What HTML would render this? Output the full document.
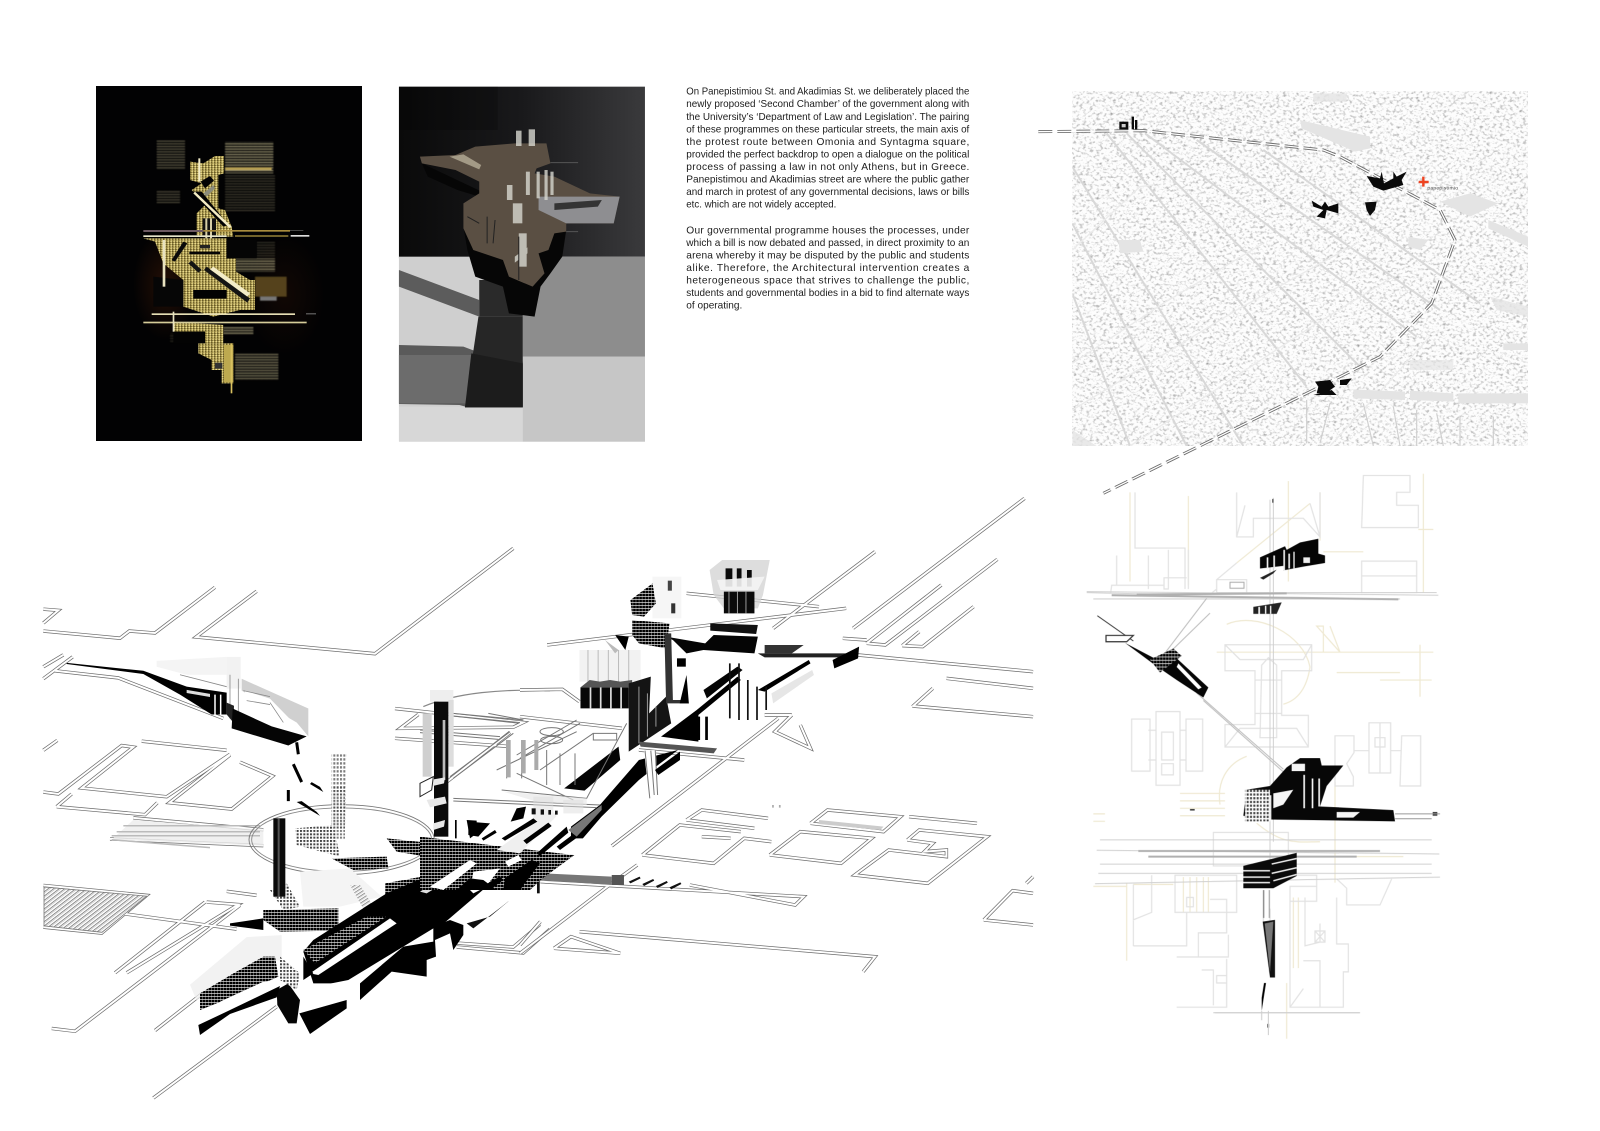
<!DOCTYPE html>
<html><head><meta charset="utf-8"><title>Panepistimiou – Second Chamber</title>
<style>
html,body{margin:0;padding:0;background:#fff;width:1600px;height:1131px;overflow:hidden}
svg{display:block}
svg *{vector-effect:non-scaling-stroke}
.t{font:10.2px "Liberation Sans",sans-serif;fill:#1c1c1c}
</style></head><body>
<svg width="1600" height="1131" viewBox="0 0 1600 1131" xmlns="http://www.w3.org/2000/svg">
<defs>
<filter id="city" x="0" y="0" width="1" height="1" color-interpolation-filters="sRGB">
<feTurbulence type="fractalNoise" baseFrequency=".3 .38" numOctaves="2" seed="7"/>
<feColorMatrix values="0 0 0 0 .62  0 0 0 0 .62  0 0 0 0 .62  2.3 0 0 0 -1.14"/>
</filter>
<filter id="b1"><feGaussianBlur stdDeviation="1.5"/></filter>
<linearGradient id="wall" x1="0" x2="1" y1="0" y2="0"><stop offset="0" stop-color="#0a0a0a"/><stop offset=".5" stop-color="#19191b"/><stop offset="1" stop-color="#3a3a3c"/></linearGradient>
<radialGradient id="glow"><stop offset="0" stop-color="#2c1206"/><stop offset="1" stop-color="#2c1206" stop-opacity="0"/></radialGradient>
<pattern id="hk" width="9" height="9" patternUnits="userSpaceOnUse"><rect width="9" height="9" fill="#eee"/><rect width="8" height="7" fill="#000"/></pattern>
<pattern id="hl" width="10" height="10" patternUnits="userSpaceOnUse"><rect width="10" height="10" fill="#fff"/><rect width="6" height="6" fill="#444"/></pattern>
<pattern id="stripe" width="9" height="9" patternUnits="userSpaceOnUse" patternTransform="rotate(-33)"><rect width="9" height="9" fill="#fff"/><rect width="9" height="2.2" fill="#777"/><rect width="9" height=".9" y="4" fill="#999"/></pattern>
<pattern id="gold" width="9" height="7" patternUnits="userSpaceOnUse"><rect width="9" height="7" fill="#b7a451"/><rect width="5" height="2" fill="#3f3618"/><rect x="5" y="3" width="4" height="3" fill="#efe3a2"/><rect x="0" y="4" width="2" height="3" fill="#6c5f2a"/></pattern>
<pattern id="strip" width="5" height="8" patternUnits="userSpaceOnUse"><rect width="5" height="3" fill="#a49c78"/><rect y="5" x="2" width="3" height="1" fill="#6a6448"/></pattern>
<path id="ax1" d="M40 380L270 398 298 380 375 385 555 270M40 325L85 328 40 360M680 280L498 395 1035 437 1450 172M40 500L128 445M40 470L100 440M75 480L265 498 580 600M40 680L82 655M40 785L85 790 275 668 310 672 155 775 410 797 600 690M335 657L590 680M80 822L125 790M80 822L345 842 382 812M630 710L728 745 605 828 418 812 600 692M240 903L700 920M310 850L700 880M255 1240L525 1062M290 1240L625 1068 530 1062M270 1090L620 1130M65 1380L135 1387 630 1070M375 1385L520 1290M370 1555L740 1325M1280 1165L1450 1175 1530 1118M1280 1175L1480 1190 1560 1130M1095 575L1480 610 1450 622 1110 625 1165 590M1095 650L1430 670M1250 760L1440 635M590 1035L680 1045M40 1020L350 1045 215 1140 40 1125"/>
<path id="ax2" d="M80 495L960 385M490 340L880 380M745 445L1045 215M980 445L1485 55M1020 490L1240 315M1020 490L1075 495 1405 238M1125 497L1175 455M1125 497L1185 500 1335 380M950 475L1020 480M995 525L1510 575M1255 595L1510 625M1155 680L1215 625M1155 678L1510 710M800 705L750 755 855 805 825 735M720 705L800 705M270 1098L760 715M0 630L125 628 175 665M0 710L300 745M490 1020L535 990 730 1015M490 1020L690 1045M535 1070L620 1075M360 1125L470 1035 650 1055M360 1125L570 1150 660 1075 740 1085M735 1125L825 1055 1035 1075 945 1150 735 1125M855 1030L905 990 1120 1010 1070 1055 855 1030M1145 1010L1345 1030M1140 1080L1175 1050 1375 1070 1200 1210 985 1185 1085 1110 1255 1130 1255 1110 1190 1115 1215 1090 1140 1080M100 1405L150 1370 295 1420 100 1405M175 1355L1045 1430 1010 1475M0 1420L270 1210 345 1155M0 1395L60 1325M60 1205L835 1250 810 1275 500 1215M1365 1320L1450 1232 1510 1240M1365 1320L1510 1335M1490 1210L1510 1190M350 810L660 840"/>
<path id="rt" d="M25 185L340 182 880 240 930 260 1230 420 1275 510 1205 700 1050 860 830 970 220 1270"/>
</defs>
<rect width="1600" height="1131" fill="#fff"/>

<!-- Panel 1 -->
<rect x="96" y="86" width="266" height="355" fill="#020203"/>
<ellipse cx="165" cy="285" rx="32" ry="55" fill="url(#glow)" opacity=".8"/>
<ellipse cx="285" cy="295" rx="40" ry="60" fill="url(#glow)" opacity=".35"/>
<g transform="translate(160 130) scale(.33333)">
<g filter="url(#b1)">
<rect x="195" y="35" width="145" height="95" fill="url(#strip)"/>
<rect x="195" y="112" width="140" height="8" fill="#b8a052"/>
<rect x="-10" y="30" width="85" height="90" fill="url(#strip)" opacity=".6"/>
<rect x="195" y="135" width="150" height="110" fill="url(#strip)" opacity=".4"/>
<rect x="-10" y="180" width="70" height="40" fill="url(#strip)" opacity=".5"/>
<rect x="225" y="385" width="120" height="40" fill="url(#strip)"/>
<rect x="285" y="440" width="95" height="60" fill="#54431d"/>
<rect x="300" y="500" width="50" height="12" fill="#777"/>
<rect x="225" y="670" width="130" height="80" fill="url(#strip)" opacity=".85"/>
<rect x="190" y="590" width="90" height="24" fill="url(#strip)"/>
<rect x="30" y="610" width="110" height="30" fill="url(#strip)" opacity=".25"/>
<rect x="290" y="335" width="55" height="45" fill="url(#strip)" opacity=".35"/>
</g>
<path d="M90 95L130 100 165 78 192 78 192 130 175 135 175 235 195 240 215 290 220 320 110 320 110 250 135 225 95 180 125 160 90 150Z" fill="url(#gold)"/>
<path d="M122 155L150 138 162 152 135 175ZM95 185L125 185 205 285 190 290Z" fill="#020203"/>
<path d="M130 190L160 165 165 175 140 200Z" fill="#8b8b7a"/>
<rect x="128" y="265" width="40" height="60" fill="#111"/><rect x="136" y="265" width="6" height="60" fill="#d7cfa6"/><rect x="150" y="265" width="6" height="60" fill="#d7cfa6"/>
<rect x="115" y="85" width="6" height="70" fill="#f3ecc8"/>
<path d="M105 185L215 290 208 294 100 190Z" fill="#f4ecc4"/>
<path d="M-50 325L200 325 200 385 228 385 228 425 270 450 285 450 285 540 240 540 160 560 70 530 70 450 10 400 -15 335Z" fill="url(#gold)"/>
<rect x="200" y="330" width="90" height="55" fill="#050505"/>
<rect x="88" y="365" width="92" height="8" fill="#050505"/><rect x="120" y="345" width="30" height="10" fill="#222"/>
<path d="M35 390L70 335 82 340 45 395Z" fill="#0a0a0a"/>
<path d="M140 410L270 505 262 518 132 420ZM95 392L125 420 115 428 85 400Z" fill="#141414"/>
<path d="M160 410L270 490 262 500 150 418Z" fill="#f3ecc8"/>
<path d="M-20 440L70 450 70 530 -20 530Z" fill="#060606"/>
<rect x="100" y="480" width="100" height="26" fill="#020202"/>
<rect x="8" y="330" width="8" height="140" fill="#e8e2c0"/>
<path d="M40 575L190 585 190 640 135 640 135 605 40 605Z" fill="url(#gold)"/>
<path d="M40 605L135 605 135 640 40 640Z" fill="#030303"/>
<path d="M115 640L220 640 220 760 185 760 185 720 155 720 155 690 115 670Z" fill="url(#gold)"/>
<rect x="192" y="645" width="28" height="112" fill="#bda94f"/>
<rect x="212" y="640" width="5" height="150" fill="#d8c060"/>
<rect x="165" y="698" width="22" height="18" fill="#333"/>
<rect x="-50" y="300" width="180" height="6" fill="#6d5a63"/><rect x="130" y="300" width="260" height="5" fill="#a88c3e"/>
<rect x="390" y="300" width="40" height="3" fill="#444"/>
<rect x="-50" y="316" width="250" height="5" fill="#e8e6cc"/><rect x="225" y="316" width="160" height="4" fill="#a8923f"/><rect x="392" y="315" width="56" height="5" fill="#ddd"/>
<rect x="-25" y="550" width="430" height="5" fill="#e6deb4"/><rect x="438" y="550" width="30" height="3" fill="#777"/>
<rect x="-50" y="575" width="490" height="5" fill="#d6cd9a"/>
<rect x="38" y="545" width="5" height="60" fill="#e8e2c0"/>
</g>

<!-- Panel 2 -->
<g transform="translate(60 60) scale(.3955 .33333)">
<rect x="857" y="80" width="622" height="515" fill="url(#wall)"/>
<rect x="857" y="80" width="250" height="130" fill="#000" opacity=".2"/>
<rect x="857" y="590" width="622" height="555" fill="#cfcfcf"/>
<path d="M1170 590H1479V890H1170Z" fill="#8d8d8d"/>
<path d="M1170 890H1479V1145H1170Z" fill="#c6c6c6"/>
<path d="M857 1040H1170V1145H857Z" fill="#d7d7d7"/>
<path d="M857 630L1060 720 1060 770 857 680Z" fill="#5c5c5c"/>
<path d="M857 855L1020 860 1060 878 1170 905 1170 1040 1025 1040 1010 1035 857 1032Z" fill="#5a5a5a"/>
<path d="M857 885H1040L1030 1030H857Z" fill="#6c6c6c"/>
<path d="M1060 660H1170V770H1060Z" fill="#2a2a2a"/>
<path d="M1058 770L1170 770 1170 1042 1024 1042Z" fill="#262626"/>
<path d="M1040 880L1170 910 1170 1042 1024 1042Z" fill="#1c1c1c"/>
<path d="M915 310L930 350 1005 390 1060 410 1020 500 1030 570 1050 650 1120 680 1135 760 1200 770 1215 680 1240 640 1270 590 1280 510 1200 470Z" fill="#060606"/>
<path d="M910 290L1000 285 1050 260 1150 250 1230 250 1240 310 1205 325 1200 340 1250 350 1340 400 1415 410 1400 490 1280 490 1280 515 1250 520 1235 570 1210 580 1225 640 1195 680 1135 650 1120 600 1045 570 1020 505 1020 430 1060 400 1060 365 1000 330 915 310Z" fill="#5a4f43"/>
<path d="M1210 410H1415L1400 490H1280L1210 450Z" fill="#8e8e91"/>
<path d="M1250 430L1370 420 1360 440 1250 450Z" fill="#343434"/>
<path d="M985 290L1020 283 1065 315 1060 328Z" fill="#a39a86"/>
<g fill="#d8d8d0" opacity=".8"><rect x="1153" y="212" width="14" height="46"/><rect x="1185" y="208" width="16" height="50"/><rect x="1178" y="335" width="10" height="70"/><rect x="1205" y="335" width="8" height="80"/><rect x="1225" y="330" width="8" height="90"/><rect x="1240" y="335" width="8" height="70"/><rect x="1130" y="375" width="14" height="45"/><rect x="1145" y="430" width="24" height="60"/><rect x="1160" y="520" width="20" height="100"/><path d="M1150 590L1182 562 1182 580 1150 608Z"/></g>
<path d="M1080 470L1080 550M1100 480L1095 550M1030 470L1060 490M1160 530V660" stroke="#222" stroke-width="1" fill="none"/>
<path d="M1240 308H1310M1280 515H1310" stroke="#555" stroke-width="1"/>
</g>

<!-- Text -->
<g>
<text class="t" x="686.3" y="94.7" textLength="283" lengthAdjust="spacingAndGlyphs">On Panepistimiou St. and Akadimias St. we deliberately placed the</text>
<text class="t" x="686.3" y="107.2" textLength="283" lengthAdjust="spacingAndGlyphs">newly proposed ‘Second Chamber’ of the government along with</text>
<text class="t" x="686.3" y="119.8" textLength="283" lengthAdjust="spacingAndGlyphs">the University’s ‘Department of Law and Legislation’. The pairing</text>
<text class="t" x="686.3" y="132.3" textLength="283" lengthAdjust="spacingAndGlyphs">of these programmes on these particular streets, the main axis of</text>
<text class="t" x="686.3" y="144.9" textLength="283">the protest route between Omonia and Syntagma square,</text>
<text class="t" x="686.3" y="157.4" textLength="283" lengthAdjust="spacingAndGlyphs">provided the perfect backdrop to open a dialogue on the political</text>
<text class="t" x="686.3" y="169.9" textLength="283">process of passing a law in not only Athens, but in Greece.</text>
<text class="t" x="686.3" y="182.5" textLength="283" lengthAdjust="spacingAndGlyphs">Panepistimou and Akadimias street are where the public gather</text>
<text class="t" x="686.3" y="195" textLength="283" lengthAdjust="spacingAndGlyphs">and march in protest of any governmental decisions, laws or bills</text>
<text class="t" x="686.3" y="207.6" textLength="150" lengthAdjust="spacingAndGlyphs">etc. which are not widely accepted.</text>
<text class="t" x="686.3" y="233.3" textLength="283">Our governmental programme houses the processes, under</text>
<text class="t" x="686.3" y="245.8" textLength="283" lengthAdjust="spacingAndGlyphs">which a bill is now debated and passed, in direct proximity to an</text>
<text class="t" x="686.3" y="258.4" textLength="283">arena whereby it may be disputed by the public and students</text>
<text class="t" x="686.3" y="270.9" textLength="283">alike. Therefore, the Architectural intervention creates a</text>
<text class="t" x="686.3" y="283.5" textLength="283">heterogeneous space that strives to challenge the public,</text>
<text class="t" x="686.3" y="296" textLength="283" lengthAdjust="spacingAndGlyphs">students and governmental bodies in a bid to find alternate ways</text>
<text class="t" x="686.3" y="308.5" textLength="56" lengthAdjust="spacingAndGlyphs">of operating.</text>
</g>

<!-- Map -->
<rect x="1072" y="91" width="456" height="355" fill="#fdfdfd"/>
<rect x="1072" y="91" width="456" height="355" filter="url(#city)"/>
<g transform="translate(1030 70) scale(.33333)" fill="none" stroke="#d0d0d0" stroke-width="1.4">
<clipPath id="mc"><rect x="127" y="62" width="1367" height="1066"/></clipPath>
<g clip-path="url(#mc)">
<path d="M230 190L830 950M290 190L1000 900M345 190L1160 800M127 290L640 1128M127 460L470 1128M127 670L300 1128M500 210L1230 720M700 240L1350 700" stroke="#d8d8d8" stroke-width="2"/>
<path d="M127 540L330 350 370 345M127 880L400 700 700 520M127 1020L620 720 980 520M300 1128L860 760 1090 620M900 1128L1200 800" stroke="#ebebeb"/>
<g fill="#e4e4e4" stroke="none">
<path d="M810 150L1020 200 1020 235 975 245 815 175Z"/>
<path d="M1230 395L1320 370 1405 400 1320 440Z"/>
<path d="M1375 450L1494 500 1494 530 1375 475Z"/>
<path d="M1380 680L1494 710 1494 740 1400 720Z" opacity=".8"/>
<path d="M1135 500L1195 510 1170 540 1135 530Z"/>
<path d="M970 958L1125 965 1125 990 970 985Z"/><path d="M1140 962L1270 970 1270 995 1140 990Z"/><path d="M1285 970H1494V1000H1285Z"/>
<path d="M265 510L330 510 340 545 270 550Z"/>
<path d="M127 1080L200 1128H127Z" opacity=".8"/>
<path d="M1420 820H1494V840H1420Z"/><path d="M1140 870H1270V900H1140Z" opacity=".7"/>
<path d="M850 70H950V95H850Z" opacity=".8"/>
</g>
<g stroke="#d0d0d0" stroke-width="1.2"><path d="M830 990V1120M900 1000L870 1120M1000 1000L1030 1128M1090 1010L1110 1128M1160 1020V1128M1220 1030L1240 1128M1290 1040V1128M1390 1040V1128"/></g>
</g>
<use href="#rt" stroke="#6a6a6a" stroke-width="3" stroke-dasharray="14 5" fill="none"/>
<use href="#rt" stroke="#fff" stroke-width="1.3" fill="none"/>
<g fill="#0a0a0a" stroke="none">
<path d="M268 155H295V178H268ZM305 140H312V178H305ZM315 150H322V178H315Z"/><rect x="275" y="162" width="12" height="10" fill="#ccc"/>
<path d="M1010 318L1050 325 1055 305 1062 340 1090 325 1090 305 1100 320 1130 305 1115 330 1120 345 1060 362 1030 350Z"/>
<path d="M845 392L875 410 885 395 895 410 925 400 925 430 890 420 885 445 860 440 880 420 850 410Z"/>
<path d="M1005 397L1040 395 1035 420 1020 438 1010 420Z"/>
<path d="M855 935L900 930 915 950 890 968 860 970 865 950ZM930 930L965 925 950 945 930 945ZM905 960L920 975 850 975Z"/>
</g>
<path d="M1180 320V350M1166 336H1196" stroke="#ee4422" stroke-width="2.4"/>
<text x="1192" y="358" font-family="Liberation Sans,sans-serif" font-size="15" fill="#444" stroke="none" textLength="92">panepistimio</text>
</g>

<!-- Axonometric streets -->
<g transform="translate(30 480) scale(.33333 .39746)" fill="none">
<use href="#ax1" stroke="#6b6b6b" stroke-width="3.4"/>
<use href="#ax1" stroke="#fff" stroke-width="2"/>
<path d="M245 905L310 855 700 880 700 920Z" fill="#ececec" stroke="none" opacity=".8"/>
<path d="M245 895H690M260 885H690M280 870H690M245 905L540 925" stroke="#bbb" stroke-width="1.5"/>
<path d="M42 1024L350 1047 216 1138 42 1122Z" fill="url(#stripe)" stroke="#777" stroke-width=".8"/>
<ellipse cx="935" cy="905" rx="278" ry="88" stroke="#777" stroke-width=".9"/>
<ellipse cx="935" cy="905" rx="270" ry="80" stroke="#888" stroke-width=".9"/>
<path d="M1180 570C1280 535 1420 525 1560 530" stroke="#888" stroke-width="1.2"/>
<!-- wing -->
<path d="M380 455L590 445 600 490 470 490 380 470Z" fill="#f4f4f4" stroke="none"/>
<path d="M635 500L835 575 835 645 800 610 635 530Z" fill="#d0d0d0" stroke="none"/>
<path d="M590 445H632V525H590Z" fill="#f2f2f2" stroke="none"/>
<path d="M645 530L720 550 790 610 700 600 645 560Z" fill="#fff" stroke="none"/>
<path d="M640 530L720 545M650 555L720 565M600 490V600M625 500V610M720 560L760 610M450 490L590 520" stroke="#888" stroke-width=".8"/>
<path d="M110 460L340 480 470 520 590 535 590 590 545 590 450 540 340 488 110 463Z" fill="#000" stroke="none"/>
<path d="M590 560L612 568 610 610 590 590Z" fill="#222" stroke="none"/>
<path d="M608 575L725 620 830 645 775 668 605 625Z" fill="#050505" stroke="none"/>
<path d="M555 540V590M572 540V590" stroke="#fff" stroke-width="1.5"/>
<path d="M470 528L540 538 540 546 470 536Z" fill="#ddd" stroke="none"/>
<path d="M800 660L805 690M790 715L815 760M775 780V808" stroke="#000" stroke-width="3"/>
<path d="M800 810L870 845 860 835 815 808ZM840 765L880 785 870 772 845 760Z" fill="#000" stroke="none"/>
<!-- spire -->
<path d="M905 690H950L945 880 905 880Z" fill="url(#hl)" stroke="none" opacity=".7"/>
<!-- front wing -->
<path d="M480 1270L650 1150 755 1145 755 1210 690 1205 500 1310Z" fill="#eee" stroke="none" opacity=".75"/>
</g>

<!-- Main mass, 3x coordinates -->
<g transform="translate(200 760) scale(.33333)" stroke="none">
<path d="M90 490L190 475 190 510 90 497Z" fill="#000"/>
<path d="M190 450L415 445 415 512 240 515 190 480Z" fill="url(#hk)"/>
<path d="M285 205L400 195 420 290 290 255Z" fill="url(#hl)"/>
<path d="M395 295L560 290 565 325 460 330Z" fill="url(#hk)"/>
<path d="M395 80L435 80 435 240 395 240Z" fill="url(#hl)" opacity=".7"/>
<path d="M210 390L260 370 300 440 250 450Z" fill="url(#hl)"/>
<rect x="220" y="175" width="36" height="235" fill="#0b0b0b"/><rect x="233" y="175" width="6" height="235" fill="#555"/>
<path d="M300 335L450 325 545 410 420 440 310 440Z" fill="#f4f4f4"/>
<path d="M450 375L480 375 520 440 495 455Z" fill="url(#stripe)"/>
<path d="M560 235L820 262 1120 285 1060 330 960 370 800 310 590 275Z" fill="url(#hk)"/>
<path d="M555 370L720 340 770 350 590 470 555 410Z" fill="url(#hk)"/>
<path d="M805 185L870 190 835 230 805 225Z" fill="#000"/>
<path d="M310 575L340 540 560 400 800 300 860 380 720 500 480 670 340 670Z" fill="#000"/>
<path d="M310 570L500 470 560 470 345 610Z" fill="url(#hk)"/>
<path d="M330 640L570 475 590 490 355 645Z" fill="#fff"/>
<path d="M350 700L480 685 735 515 700 505 445 660 345 680Z" fill="#fff"/>
<path d="M660 395L800 310 815 320 680 400Z" fill="#ddd"/>
<path d="M800 380L840 365 860 380 820 400ZM800 350L850 320 900 345 850 365Z" fill="#fff"/>
<path d="M605 345H650L620 358H595Z" fill="#fff"/>
<path d="M480 670L610 560 700 545 700 500 750 480 790 495 790 525 760 570 750 520 705 540 708 590 680 600 680 650 575 635 480 720Z" fill="#000"/>
<path d="M710 550L750 535 755 595 712 595Z" fill="#fff"/>
<path d="M230 690L265 670 300 720 290 790 265 790 232 735Z" fill="#050505"/>
<path d="M298 760L440 720 440 745 330 822Z" fill="#000"/>
<path d="M-5 795L80 755 240 678 230 712 90 762 0 825Z" fill="#000"/>
<path d="M0 700L100 640 190 590 225 590 235 650 100 710 0 750Z" fill="url(#hk)"/>
<path d="M60 725L190 665 235 660 100 720Z" fill="#fff"/>
<path d="M240 590L300 640 290 690 240 660Z" fill="url(#hl)"/>
<path d="M310 590L340 640 310 660Z" fill="#000"/>
<path d="M800 490L870 470 930 420 905 440 820 505Z" fill="#111"/>
</g>

<!-- Right axon part -->
<g transform="translate(520 480) scale(.33978 .33333)" fill="none">
<use href="#ax2" stroke="#6b6b6b" stroke-width="3.4"/>
<use href="#ax2" stroke="#fff" stroke-width="2"/>
<path d="M880 1020L1070 1040 1060 1050 880 1032Z" fill="#ccc" stroke="none"/>
<g stroke="none">
<path d="M175 510H355V605H175Z" fill="#e8e8e8" opacity=".55"/>
<path d="M200 510V605M230 510V605M260 510V605M290 510V605M320 510V605" stroke="#bbb" stroke-width="1"/>
<path d="M390 290H475V415H390Z" fill="#f6f6f6"/>
<rect x="435" y="302" width="12" height="30" fill="#444"/><rect x="445" y="370" width="12" height="30" fill="#333"/>
<path d="M558 270L595 240 735 240 715 345 700 385 600 385 570 345Z" fill="#d2d2d2" opacity=".75"/>
<path d="M605 265H625V320H605ZM638 265H652V320H638ZM668 270H682V320H668ZM600 335H690V400H600Z" fill="#0a0a0a"/>
<path d="M580 300L720 290 700 330 590 330Z" fill="#f5f5f5" opacity=".9"/>
<path d="M615 335V400M640 335V400M665 335V400" stroke="#999" stroke-width="1"/>
<path d="M560 430L700 435 695 462 560 452Z" fill="#111"/>
<path d="M430 470L545 490 570 465 700 470 690 520 540 510 490 520 450 480Z" fill="#050505"/>
<path d="M325 360L390 310 400 370 365 410 330 405Z" fill="url(#hk)"/>
<path d="M330 420L440 430 430 505 350 490 330 465Z" fill="url(#hk)"/>
<path d="M280 465L320 470 310 510Z" fill="#000"/><path d="M250 480L290 510 280 520Z" fill="#bbb"/>
<path d="M178 622H320V685H178Z" fill="#070707"/>
<path d="M205 622h5v63h-5zM235 622h5v63h-5zM265 622h5v63h-5zM295 622h5v63h-5z" fill="#ddd"/>
<path d="M178 622L205 600 235 605 265 600 295 605 330 600V622Z" fill="#555"/>
<path d="M320 610L385 590 380 700 430 650 445 730 320 815Z" fill="#141414"/>
<path d="M350 620V790M375 640V770M400 680V740" stroke="#999" stroke-width="1"/>
<path d="M425 460H445L450 660H490L497 670H465L430 670Z" fill="#333"/>
<path d="M470 670L490 585 497 670Z" fill="#000"/><path d="M462 535H488V560H462Z" fill="#000"/>
<path d="M130 925L290 800 295 840 190 932Z" fill="#050505"/>
<path d="M235 975L350 840 465 810 400 860 350 900 240 1010 185 1075 150 1075 150 1040Z" fill="#000"/>
<path d="M415 770L520 690 640 590 650 600 525 705 525 785Z" fill="#000"/>
<path d="M540 630L640 560 655 570 550 655Z" fill="#050505"/>
<path d="M700 630L850 540 855 550 720 635Z" fill="#000"/>
<path d="M700 520L960 520 950 532 720 532Z" fill="#222"/><path d="M720 495H835L870 470 800 520 720 520Z" fill="#333"/>
<path d="M920 540L998 500 995 535 925 565Z" fill="#000"/>
<path d="M615 550h5v165h-5zM642 550h5v170h-5zM668 600h5v120h-5zM695 620h5v100h-5zM722 620h5v70h-5z" fill="#111"/>
<path d="M740 640L860 570 865 585 745 670Z" fill="#e6e6e6"/>
<path d="M350 785L580 805 570 820 355 800Z" fill="#555"/>
<path d="M365 812L400 810 405 945 380 955Z" fill="#fff"/><path d="M368 812L382 955M385 812L395 945M398 810L405 945" stroke="#777" stroke-width="1"/>
<path d="M520 710h10v70h-10zM545 710h8v70h-8z" fill="#000"/>
<path d="M70 1180L270 1190V1215L60 1200Z" fill="#777"/><rect x="270" y="1185" width="36" height="30" fill="#555"/>
<path d="M0 1130L160 1125 60 1200 0 1220Z" fill="url(#hk)"/><rect x="50" y="1190" width="8" height="50" fill="#111"/>
<path d="M320 1205L352 1190 355 1195 325 1210ZM360 1212L392 1197 395 1202 365 1218ZM400 1218L432 1203 435 1208 405 1224ZM440 1222L472 1207 475 1212 445 1228Z" fill="#111"/>
</g>
<path d="M742 975h5v8h-5zM762 975h5v8h-5z" fill="#aaa"/>
</g>

<!-- Mid axon block -->
<g transform="translate(420 690) scale(.33333)">
<g fill="none" stroke="#777" stroke-width="1">
<path d="M245 300L500 325 620 100M230 240L470 125M260 150V265M305 150V265M345 150V240M380 180V285M420 190V285M465 190V285M100 70L310 90M100 78L300 98M0 120L240 140M0 128L235 148M100 325L540 345M100 333L530 353M90 260L270 125M100 265L280 130M290 195L470 90M300 205L480 100M360 240L520 130M290 250L460 330"/>
<path d="M360 125a35 12 0 1 0 70 0a35 12 0 1 0 -70 0M362 150a33 11 0 1 0 66 0a33 11 0 1 0 -66 0"/>
<path d="M205 70L310 90M520 130H590V150H520Z"/>
</g>
<path d="M258 150H272V262H258ZM303 150H317V250H303ZM343 150H355V240H343Z" fill="#aaa"/>
<path d="M250 305L500 325 500 345 350 335Z" fill="#e8e8e8" opacity=".7"/>
<path d="M340 320h60v70h-60zM430 330h60v40h-60z" fill="#ddd" opacity=".5"/>
<rect x="8" y="70" width="27" height="190" fill="#cfcfcf"/><rect x="30" y="0" width="70" height="35" fill="#eee"/>
<rect x="85" y="30" width="16" height="200" fill="#ddd"/>
<rect x="42" y="35" width="43" height="405" fill="#0a0a0a"/><rect x="68" y="90" width="8" height="180" fill="#bbb"/>
<path d="M20 330L75 320 80 340 30 352ZM30 270L75 262 72 280 30 290ZM40 400L75 390 72 410 40 420Z" fill="#e8e8e8"/>
<path d="M0 280L40 260 35 300 0 320Z" fill="#fff" stroke="#222" stroke-width="1"/>
<path d="M0 440L460 495 400 535 330 600 0 600Z" fill="url(#hk)"/>
<path d="M30 590L150 510 170 520 70 600ZM160 545L240 535 190 600H150ZM255 515L295 495 305 510 265 530Z" fill="#fff"/>
<path d="M110 600L150 565 190 570 230 600ZM255 565L335 510 360 520 300 600H250ZM185 590L240 560 250 570 210 600Z" fill="#000"/>
<path d="M105 390h5v55h-5zM140 390L170 392 170 420 210 400 150 445Z" fill="#000"/>
<path d="M230 480L395 360 410 378 300 490Z" fill="#efefef"/>
<path d="M245 445L340 385 352 395 255 452ZM310 452L385 398 395 408 320 462ZM185 445L225 420 230 428 190 452ZM350 490L440 410 445 428 360 498ZM410 470L470 425 475 440 420 480Z" fill="#000"/>
<path d="M272 395L290 355 318 350 310 385Z" fill="#000"/>
<path d="M335 355h12v18h-12zM362 358h10v16h-10zM385 360h8v14h-8zM405 362h8v12h-8z" fill="#111"/>
<path d="M445 420L525 360 545 345 545 360 470 440Z" fill="#777"/>
<path d="M705 240L780 185 780 210 715 255Z" fill="#000"/>
</g>

<!-- Plan -->
<g transform="translate(1070 470) scale(.33333 .37175)" fill="none">
<g stroke="#efe9d2" stroke-width="1.2">
<path d="M180 60V300M355 70V310M655 30V300M750 60V190M1060 10V330M1090 160H1045M760 220H880M500 250L720 90M440 490H1090M800 545H990M930 565H1085M1050 470V610M470 415C560 380 700 440 720 530 710 590 680 620 640 630M450 900C440 840 470 790 530 770M560 950C640 1010 680 1000 750 1000M795 840V1110M330 870H465M330 890H465M330 910H465M330 930H465M70 925H105M70 945H105M340 1095V1190M360 1095V1190M380 1095V1190M400 1095V1190M415 1095V1190M170 1110V1320M70 1120H170M670 1150V1340M685 1150V1340M650 1380V1530M800 1040H1000M190 1115H310M780 420L810 490 740 420 760 420V490"/>
</g>
<g stroke="#e2e2e2" stroke-width="1.2">
<path d="M195 60V210H345V320M355 215V320M295 215V320H282V290H350M235 230V320M122 330L125 310H280M140 230V310M880 15H1020V60H980V95H1045V155H875ZM875 245H1040V330H875ZM875 285H1040M500 60V180H550V130L620 130H700L750 180V60M500 180L525 95M750 180L720 90M440 295H530V330H440ZM440 295L500 250M440 320L420 335M465 470H725V540H635V660H715V745H465V685H555V540H465ZM465 470L510 510H700L725 470M465 745L510 695H680L715 745M575 525L595 505 620 525V720H570ZM555 565H635V655H555ZM258 650H330V848H258ZM185 670H240V810H185ZM348 670H398V810H348ZM275 705H310V780H275ZM275 790H310V820H275ZM235 700H258M235 780H258M330 700H348M330 780H348M795 715H852V760L830 790 850 825V850H795ZM897 680H962V815H897ZM995 715H1052V850H990ZM852 755H897M962 755H995M915 720H945V745H915ZM930 680V815M430 975H655V1065H430ZM800 1100L830 1125V1170H930L965 1100M315 1090H500V1190H315ZM420 1155H470V1245H385V1310H475V1250M190 1115V1210L245 1190V1090M190 1280V1210M190 1280H350V1190M385 1310H320M470 1315V1445H320M395 1345H430V1440M440 1360H470V1380H440ZM660 1120H740V1160H660ZM665 1090H740V1120M705 1150V1280L750 1270V1220M800 1150V1275L835 1275V1350H820V1445H660V1150M700 1320H750V1445M660 1445L700 1395M735 1240L765 1270M735 1270L765 1240M735 1240H765V1270H735ZM435 1460H870M600 1180V1215M580 1130V1215M350 1150H370V1175H350Z"/>
</g>
<g stroke="#d0d0d0" stroke-width="1">
<path d="M50 327L1105 337M70 347H990M50 330L280 335M440 330H1100M80 1023L1108 1033M90 995H1085M90 1060H1085M85 1085H1085M75 1113L1110 1095M600 80V1120M610 75V1000"/>
</g>
<g stroke="#bcbcbc" stroke-width="1"><path d="M410 345L270 510M420 385L300 490M400 620L650 820M380 600L640 805"/></g>
<g stroke="#b0b0b0" stroke-width="2"><path d="M125 337L985 348M200 335L650 332M205 1025H930M235 1040H860"/></g>
<path d="M480 302H522V318H480Z" stroke="#aaa" stroke-width="1"/>
<path d="M82 392L190 460" stroke="#333" stroke-width="1"/>
<path d="M108 445H190L170 462H108Z" stroke="#333" stroke-width="1.2" fill="#fff"/>
<g stroke="none">
<path d="M570 235L645 205 650 215 690 195 745 185 745 225 765 230 765 250 700 260 640 270 640 258 570 265Z" fill="#050505"/>
<path d="M590 235h5v30h-5zM610 230h5v35h-5zM640 215h5v55h-5zM655 225h5v40h-5zM670 220h4v45h-4zM700 235h20v15h-20z" fill="#eee"/>
<path d="M570 290L620 268 610 278 580 295Z" fill="#222"/>
<path d="M550 368L635 356 620 387 550 387Z" fill="#222"/>
<path d="M565 368h5v20h-5zM585 365h4v22h-4zM600 365h4v22h-4z" fill="#fff"/>
<path d="M165 465L250 505 300 490 415 585 400 612 320 565 255 525Z" fill="#060606"/>
<path d="M325 520L395 585 385 590 320 530Z" fill="#fff"/>
<path d="M240 510L310 480 335 500 270 545Z" fill="url(#hk)"/>
<path d="M600 850L650 800 690 775 750 775 755 795 820 795 770 850 750 905 970 915 975 945 600 940 520 930 530 860Z" fill="#070707"/>
<path d="M700 820h5v90h-5zM725 830h5v80h-5zM745 830h5v75h-5zM665 790h40v20h-40zM610 870L670 860 640 900 610 910ZM800 920H870L850 935H800Z" fill="#f5f5f5"/>
<path d="M525 860H600V945H525Z" fill="url(#hl)"/>
<path d="M575 875h4v70h-4zM600 875h4v70h-4z" fill="#fff"/>
<path d="M520 1065L680 1030 680 1092 610 1125 520 1125Z" fill="#0a0a0a"/>
<path d="M520 1078H600M520 1095H600M520 1110H600M605 1060L680 1045M605 1085L680 1070M610 1105L680 1088" stroke="#eee" stroke-width="1.5"/>
<path d="M578 1215L615 1210 615 1365 600 1365Z" fill="#111"/>
<path d="M584 1220L610 1215 600 1350Z" fill="#777"/>
<path d="M575 1455L588 1380 605 1380 603 1455Z" fill="#fff"/><path d="M575 1455L588 1380 582 1380 575 1420Z" fill="#000"/>
<rect x="579" y="1130" width="4" height="75" fill="#888"/><rect x="596" y="1130" width="4" height="75" fill="#aaa"/>
<rect x="1088" y="920" width="14" height="10" fill="#333"/><rect x="360" y="912" width="14" height="4" fill="#333"/>
<rect x="607" y="78" width="3" height="10" fill="#222"/><rect x="592" y="1490" width="5" height="10" fill="#222"/>
</g>
<path d="M975 925H1110M975 938H1085" stroke="#999" stroke-width="1"/>
<path d="M575 1455V1480M595 1455V1520M430 1460H870" stroke="#ccc" stroke-width="1"/>
</g>
</svg>
</body></html>
